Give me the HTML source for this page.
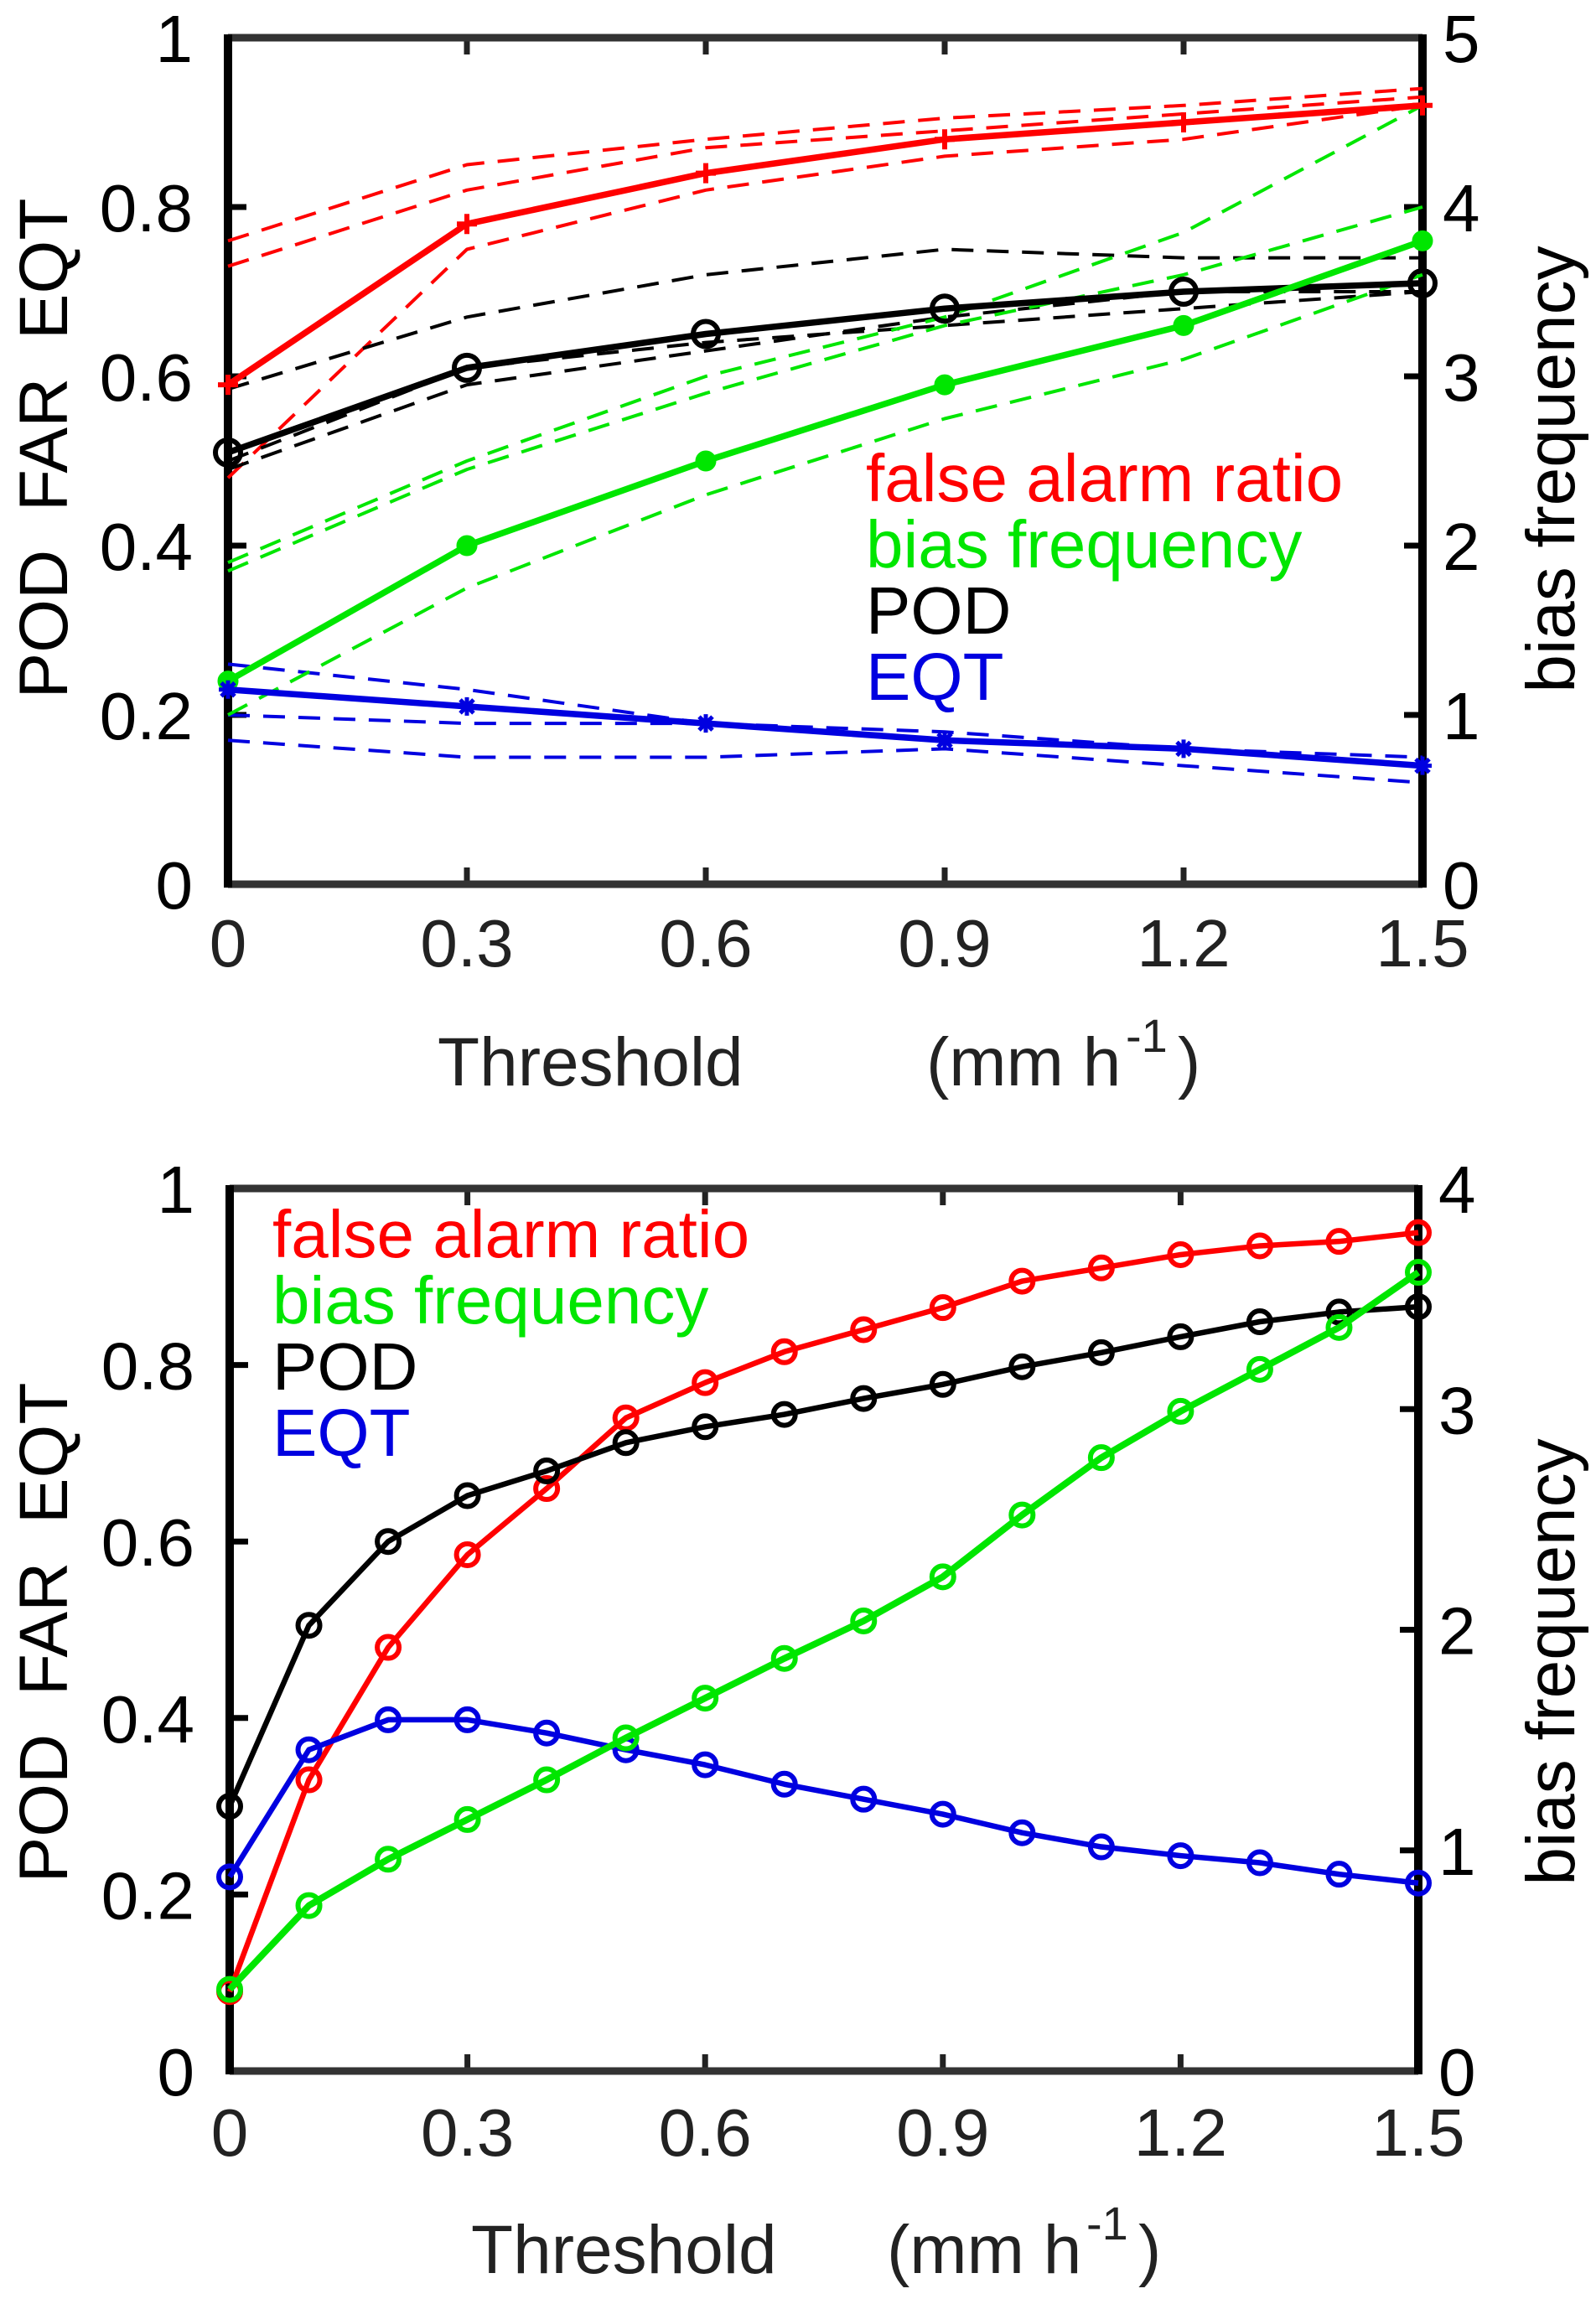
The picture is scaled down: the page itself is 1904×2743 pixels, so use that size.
<!DOCTYPE html>
<html><head><meta charset="utf-8"><style>
html,body{margin:0;padding:0;background:#fff;}
svg{display:block;font-family:"Liberation Sans",sans-serif;}
</style></head><body>
<svg id="fig" width="1904" height="2743" viewBox="0 0 1904 2743" xmlns="http://www.w3.org/2000/svg"></svg>
<script>
// ---------- Data: top panel ----------
const topX = [0, 0.3, 0.6, 0.9, 1.2, 1.5];
const topFar = [0.59, 0.78, 0.84, 0.88, 0.90, 0.92];
const topFarD1 = [0.76, 0.85, 0.88, 0.905, 0.92, 0.94];
const topFarD2 = [0.73, 0.82, 0.87, 0.89, 0.91, 0.93];
const topFarD3 = [0.48, 0.75, 0.82, 0.86, 0.88, 0.92];
const topPod = [0.51, 0.61, 0.65, 0.68, 0.70, 0.71];
const topPodD1 = [0.585, 0.67, 0.72, 0.75, 0.74, 0.74];
const topPodD2 = [0.50, 0.61, 0.64, 0.66, 0.68, 0.70];
const topPodD3 = [0.49, 0.59, 0.63, 0.67, 0.70, 0.70];
const topBias = [1.2, 2.0, 2.5, 2.95, 3.3, 3.8];
const topBiasD1 = [1.9, 2.5, 3.0, 3.35, 3.85, 4.6];
const topBiasD2 = [1.85, 2.45, 2.9, 3.3, 3.6, 4.0];
const topBiasD3 = [1.0, 1.75, 2.3, 2.75, 3.1, 3.6];
const topEqt = [0.23, 0.21, 0.19, 0.17, 0.16, 0.14];
const topEqtD1 = [0.26, 0.23, 0.19, 0.17, 0.16, 0.15];
const topEqtD2 = [0.20, 0.19, 0.19, 0.18, 0.16, 0.14];
const topEqtD3 = [0.17, 0.15, 0.15, 0.16, 0.14, 0.12];
// ---------- Data: bottom panel ----------
const botX = [0,0.1,0.2,0.3,0.4,0.5,0.6,0.7,0.8,0.9,1.0,1.1,1.2,1.3,1.4,1.5];
const botFar = [0.09,0.33,0.48,0.585,0.66,0.74,0.78,0.815,0.84,0.865,0.895,0.91,0.925,0.935,0.94,0.95];
const botPod = [0.30,0.505,0.60,0.652,0.68,0.712,0.73,0.744,0.762,0.778,0.798,0.814,0.832,0.849,0.86,0.866];
const botEqt = [0.22,0.364,0.398,0.398,0.383,0.364,0.347,0.325,0.308,0.291,0.27,0.254,0.244,0.236,0.223,0.213];
const botBias = [0.37,0.75,0.96,1.14,1.32,1.51,1.69,1.87,2.04,2.24,2.52,2.78,2.99,3.18,3.37,3.62];
// ---------- Tick labels ----------
const xTicks = [0, 0.3, 0.6, 0.9, 1.2, 1.5];
const xTickLabels = ["0","0.3","0.6","0.9","1.2","1.5"];
const yTicks = [0,0.2,0.4,0.6,0.8,1];
const yTickLabels = ["0","0.2","0.4","0.6","0.8","1"];
const topRTicks = [0,1,2,3,4,5];
const botRTicks = [0,1,2,3,4];

const NS = "http://www.w3.org/2000/svg";
const svg = document.getElementById('fig');
function mk(tag, attrs, parent){
  const e = document.createElementNS(NS, tag);
  for (const k in attrs) e.setAttribute(k, attrs[k]);
  (parent||svg).appendChild(e);
  return e;
}
const RED="#ff0000", GREEN="#00e600", BLACK="#000000", BLUE="#0000e0";

function panel(p){
  const g = mk('g', {});
  
  
  const sx = v => p.L + (v - 0) / 1.5 * (p.R - p.L);
  const sy = v => p.B - v * (p.B - p.T);
  const sy2 = v => p.B - v / p.rmax * (p.B - p.T);
  p.sx = sx; p.sy = sy; p.sy2 = sy2;
  xTicks.forEach((t,i)=>{
    const x = sx(t);
    let l = mk('line',{x1:x,x2:x,y1:p.B,y2:p.B-20,stroke:'#222','stroke-width':7},g);
     
    l = mk('line',{x1:x,x2:x,y1:p.T,y2:p.T+20,stroke:'#222','stroke-width':7},g);
     
    const tx = mk('text',{x:x,y:p.xlabY,'font-size':80,'text-anchor':'middle',fill:'#222'},g);
    tx.textContent = xTickLabels[i];
     
  });
  yTicks.forEach((t,i)=>{
    const y = sy(t);
    const l = mk('line',{x1:p.L,x2:p.L+22,y1:y,y2:y,stroke:'#000','stroke-width':7},g);
     
    const tx = mk('text',{x:p.L-42,y:y+29,'font-size':80,'text-anchor':'end',fill:'#000'},g);
    tx.textContent = yTickLabels[i];
     
  });
  p.rticks.forEach(t=>{
    const y = sy2(t);
    const l = mk('line',{x1:p.R,x2:p.R-22,y1:y,y2:y,stroke:'#000','stroke-width':7},g);
     
    const tx = mk('text',{x:p.R+24,y:y+29,'font-size':80,'text-anchor':'start',fill:'#000'},g);
    tx.textContent = String(t);
     
  });
  const fr = mk('path',{d:`M${p.L} ${p.T}H${p.R}M${p.L} ${p.B}H${p.R}`,stroke:'#333','stroke-width':9,fill:'none'},g);
   
  const fr2 = mk('path',{d:`M${p.L} ${p.T-4}V${p.B+4}M${p.R} ${p.T-4}V${p.B+4}`,stroke:'#000','stroke-width':10,fill:'none'},g);
   
  let t = mk('text',{x:0,y:0,'font-size':82,'text-anchor':'middle',fill:'#000',transform:`translate(${p.ylabX},${p.ylabY}) rotate(-90)`},g);
  t.textContent = 'POD  FAR  EQT';
  t.style.whiteSpace='pre';
   
  t = mk('text',{x:0,y:0,'font-size':82,'text-anchor':'middle',fill:'#000',transform:`translate(${p.rlabX},${p.rlabY}) rotate(-90)`},g);
  t.textContent = 'bias frequency';
   
  t = mk('text',{x:p.thX,y:p.titY,'font-size':82,fill:'#222'},g);
  t.textContent = 'Threshold';
   
  t = mk('text',{x:p.unitX,y:p.titY,'font-size':82,fill:'#222'},g);
  t.textContent = '(mm h';
   
  t = mk('text',{x:p.unitX+238,y:p.titY-40,'font-size':56,fill:'#222'},g);
  t.textContent = '-1';
   
  t = mk('text',{x:p.unitX+300,y:p.titY,'font-size':82,fill:'#222'},g);
  t.textContent = ')';
   
  const leg = [['false alarm ratio',RED],['bias frequency',GREEN],['POD',BLACK],['EQT',BLUE]];
  leg.forEach((e,i)=>{
    const lt = mk('text',{x:p.legX,y:p.legY+i*79,'font-size':80,fill:e[1]},g);
    lt.textContent = e[0];
     
  });
  return g;
}

function series(g, xs, ys, scale, sx, color, opts){
  const pts = xs.map((x,i)=>[sx(x), scale(ys[i])]);
  const pl = mk('polyline',{points:pts.map(p=>p.join(',')).join(' '),fill:'none',stroke:color,
    'stroke-width':opts.w,'stroke-linejoin':'round','stroke-dasharray':opts.dash||'none'},g);
  
  
  if (!opts.marker) return;
  pts.forEach(p=>{
    let m;
    if (opts.marker==='circle'){
      m = mk('circle',{cx:p[0],cy:p[1],r:opts.r||13,fill:'none',stroke:color,'stroke-width':6},g);
    } else if (opts.marker==='dot'){
      m = mk('circle',{cx:p[0],cy:p[1],r:11,fill:color,stroke:color,'stroke-width':3},g);
    } else if (opts.marker==='plus'){
      m = mk('path',{d:`M${p[0]-12} ${p[1]}h24M${p[0]} ${p[1]-12}v24`,stroke:color,'stroke-width':6},g);
    } else {
      m = mk('path',{d:`M${p[0]-11} ${p[1]}h22M${p[0]} ${p[1]-11}v22M${p[0]-8} ${p[1]-8}l16 16M${p[0]-8} ${p[1]+8}l16 -16`,stroke:color,'stroke-width':5},g);
    }
    
    
  });
}

const P1 = {name:'top-chart',L:272,R:1697,T:45,B:1055,rmax:5,rticks:topRTicks,xlabY:1153,
  ylabX:80,ylabY:535,rlabX:1878,rlabY:560,thX:522,unitX:1105,titY:1295,legX:1033,legY:598};
const g1 = panel(P1);
const D = '26 16';
[[topFarD1,RED],[topFarD2,RED],[topFarD3,RED],[topPodD1,BLACK],[topPodD2,BLACK],[topPodD3,BLACK],
 [topEqtD1,BLUE],[topEqtD2,BLUE],[topEqtD3,BLUE]].forEach(s=>series(g1,topX,s[0],P1.sy,P1.sx,s[1],{w:4,dash:D,name:'dashed-member-line'}));
[topBiasD1,topBiasD2,topBiasD3].forEach(s=>series(g1,topX,s,P1.sy2,P1.sx,GREEN,{w:4,dash:D,name:'bias-dashed-member-line'}));
series(g1,topX,topFar,P1.sy,P1.sx,RED,{w:7.5,marker:'plus',name:'far-line'});
series(g1,topX,topPod,P1.sy,P1.sx,BLACK,{w:7.5,marker:'circle',r:15,name:'pod-line'});
series(g1,topX,topBias,P1.sy2,P1.sx,GREEN,{w:7.5,marker:'dot',name:'bias-line'});
series(g1,topX,topEqt,P1.sy,P1.sx,BLUE,{w:7.5,marker:'star',name:'eqt-line'});

const P2 = {name:'bottom-chart',L:274,R:1692,T:1418,B:2471,rmax:4,rticks:botRTicks,xlabY:2572,
  ylabX:80,ylabY:1948,rlabX:1878,rlabY:1983,thX:562,unitX:1058,titY:2712,legX:325,legY:1500};
const g2 = panel(P2);
series(g2,botX,botFar,P2.sy,P2.sx,RED,{w:6.5,marker:'circle',name:'far-line'});
series(g2,botX,botPod,P2.sy,P2.sx,BLACK,{w:6.5,marker:'circle',name:'pod-line'});
series(g2,botX,botEqt,P2.sy,P2.sx,BLUE,{w:6.5,marker:'circle',name:'eqt-line'});
series(g2,botX,botBias,P2.sy2,P2.sx,GREEN,{w:8,marker:'circle',name:'bias-line'});
</script>
</body></html>
